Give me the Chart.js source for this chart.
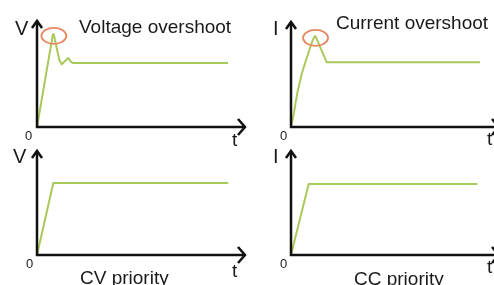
<!DOCTYPE html>
<html>
<head>
<meta charset="utf-8">
<script src="https://cdn.jsdelivr.net/npm/chart.js@4/dist/chart.umd.min.js"></script>
<style>
    html, body { margin: 0; padding: 0; background: #fff; }
    #wrap { position: relative; width: 494px; height: 285px; overflow: hidden; }
    canvas { position: absolute; }
</style>
</head>
<body>
<div id="wrap">
    <canvas id="voltageOvershoot" width="247" height="150" style="left:0;top:0"></canvas>
    <canvas id="currentOvershoot" width="247" height="150" style="left:247px;top:0"></canvas>
    <canvas id="cvPriority" width="247" height="145" style="left:0;top:140px"></canvas>
    <canvas id="ccPriority" width="247" height="145" style="left:247px;top:140px"></canvas>
</div>
<script>
// time runs 0..10, level 0..1 (top of the arrow)
const TIME_MAX = 10;
const LEVEL_MAX = 1;

// Voltage overshoot (top left)
const voltOverT = [0, 0.76, 0.80, 1.07, 1.18, 1.34, 1.50, 1.63, 1.74, 9.14];
const voltOverV = [0, 0.866, 0.866, 0.626, 0.585, 0.617, 0.645, 0.607, 0.598, 0.598];

// Current overshoot (top right)
const currOverT = [0, 0.15, 0.31, 0.54, 0.79, 1.03, 1.16, 1.21, 1.76, 9.31];
const currOverI = [0, 0.14, 0.32, 0.51, 0.66, 0.80, 0.855, 0.855, 0.61, 0.61];

// CV priority (bottom left)
const cvT = [0, 0.78, 9.15];
const cvV = [0, 0.686, 0.686];

// CC priority (bottom right)
const ccT = [0, 0.87, 9.18];
const ccI = [0, 0.676, 0.676];

const LINE_COLOR = '#a9c95a';
const RING_COLOR = '#e8875f';
const AXIS_COLOR = '#111';
const TEXT_COLOR = '#1a1a1a';
const FONT = '"Liberation Sans", Arial, sans-serif';

function toPoints(xs, ys) {
    return xs.map((x, i) => ({ x: x, y: ys[i] }));
}

const sketchAxes = {
    id: 'sketchAxes',
    afterDatasetsDraw(chart, args, opts) {
        const ctx = chart.ctx;
        const a = chart.chartArea;

        ctx.save();
        ctx.strokeStyle = AXIS_COLOR;
        ctx.lineWidth = 2.5;
        ctx.lineJoin = 'miter';

        // y axis with arrow
        ctx.beginPath();
        ctx.moveTo(a.left, a.bottom + 1);
        ctx.lineTo(a.left, a.top + 1);
        ctx.stroke();
        ctx.beginPath();
        ctx.moveTo(a.left - 5, a.top + 8);
        ctx.lineTo(a.left, a.top + 1);
        ctx.lineTo(a.left + 5, a.top + 8);
        ctx.stroke();

        // x axis with arrow
        const xEnd = a.right + (opts.overhang || 0) - 1;
        ctx.beginPath();
        ctx.moveTo(a.left - 1, a.bottom);
        ctx.lineTo(xEnd, a.bottom);
        ctx.stroke();
        ctx.beginPath();
        ctx.moveTo(xEnd - 7, a.bottom - 8);
        ctx.lineTo(xEnd, a.bottom);
        ctx.lineTo(xEnd - 7, a.bottom + 8);
        ctx.stroke();

        // ring round the peak
        if (opts.ring) {
            const data = chart.data.datasets[0].data;
            let peak = data[0];
            data.forEach(p => { if (p.y > peak.y) peak = p; });
            const px = chart.scales.x.getPixelForValue(peak.x);
            const py = chart.scales.y.getPixelForValue(peak.y);
            ctx.strokeStyle = RING_COLOR;
            ctx.lineWidth = 1.8;
            ctx.beginPath();
            ctx.ellipse(px + 1, py + 1.5, 12.5, 8, 0, 0, Math.PI * 2);
            ctx.stroke();
        }

        // labels
        ctx.fillStyle = TEXT_COLOR;
        ctx.textBaseline = 'alphabetic';
        (opts.texts || []).forEach(t => {
            ctx.font = t.size + 'px ' + FONT;
            ctx.fillText(t.text, t.x, t.y);
        });

        ctx.restore();
    },
};

function buildPanel(canvasId, points, padding, axesOptions) {
    const canvas = document.getElementById(canvasId);

    return new Chart(canvas, {
        type: 'line',
        data: {
            datasets: [
                {
                    data: points,
                    borderColor: LINE_COLOR,
                    borderWidth: 2,
                    borderJoinStyle: 'round',
                    pointRadius: 0,
                    fill: false,
                    tension: 0,
                    clip: false,
                },
            ],
        },
        options: {
            responsive: false,
            animation: false,
            devicePixelRatio: 1,
            layout: { padding: padding },
            scales: {
                x: { type: 'linear', min: 0, max: TIME_MAX, display: false },
                y: { type: 'linear', min: 0, max: LEVEL_MAX, display: false },
            },
            plugins: {
                legend: { display: false },
                tooltip: { enabled: false },
                sketchAxes: axesOptions,
            },
        },
        plugins: [sketchAxes],
    });
}

buildPanel('voltageOvershoot', toPoints(voltOverT, voltOverV),
    { left: 37, right: 1, top: 20, bottom: 23 },
    {
        overhang: 0,
        ring: true,
        texts: [
            { text: 'V', x: 15, y: 35, size: 20 },
            { text: 'Voltage overshoot', x: 79, y: 33, size: 19 },
            { text: '0', x: 25, y: 140, size: 13 },
            { text: 't', x: 232, y: 146, size: 19 },
        ],
    });

buildPanel('currentOvershoot', toPoints(currOverT, currOverI),
    { left: 44, right: 0, top: 21, bottom: 23 },
    {
        overhang: 6,
        ring: true,
        texts: [
            { text: 'I', x: 26, y: 35, size: 20 },
            { text: 'Current overshoot', x: 89, y: 29, size: 19 },
            { text: '0', x: 33, y: 140, size: 13 },
            { text: 't', x: 240, y: 145, size: 19 },
        ],
    });

buildPanel('cvPriority', toPoints(cvT, cvV),
    { left: 37, right: 1, top: 10, bottom: 30 },
    {
        overhang: 0,
        ring: false,
        texts: [
            { text: 'V', x: 13, y: 23, size: 20 },
            { text: '0', x: 26, y: 128, size: 13 },
            { text: 't', x: 232, y: 137, size: 19 },
            { text: 'CV priority', x: 80, y: 144, size: 19 },
        ],
    });

buildPanel('ccPriority', toPoints(ccT, ccI),
    { left: 44, right: 0, top: 10, bottom: 30 },
    {
        overhang: 6,
        ring: false,
        texts: [
            { text: 'I', x: 26, y: 23, size: 20 },
            { text: '0', x: 33, y: 128, size: 13 },
            { text: 't', x: 240, y: 133, size: 19 },
            { text: 'CC priority', x: 107, y: 145, size: 19 },
        ],
    });
</script>
</body>
</html>
